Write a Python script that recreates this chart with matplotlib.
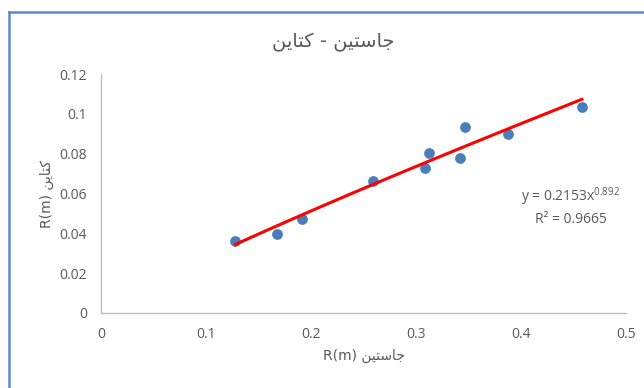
import numpy as np
import matplotlib
matplotlib.use('Agg')
import matplotlib.pyplot as plt
from matplotlib.lines import Line2D

# Datos medidos (R en metros)
x_jastin = [0.128, 0.168, 0.191, 0.259, 0.309, 0.312, 0.342, 0.347, 0.388, 0.458]
y_ketain = [0.0361, 0.0397, 0.0472, 0.0663, 0.0727, 0.0803, 0.0778, 0.0934, 0.0899, 0.1034]

# Coeficientes de la línea de tendencia potencial
coef_a = 0.2153
coef_b = 0.892
r2 = 0.9665

x_ticks = [0, 0.1, 0.2, 0.3, 0.4, 0.5]
y_ticks = [0, 0.02, 0.04, 0.06, 0.08, 0.1, 0.12]
x_tick_labels = ['0', '0.1', '0.2', '0.3', '0.4', '0.5']
y_tick_labels = ['0', '0.02', '0.04', '0.06', '0.08', '0.1', '0.12']

# Texto árabe ya en formas de presentación y en orden visual (matplotlib no hace shaping)
jastin = '\uFEE6\uFBFF\uFE98\uFEB3\uFE8E\uFE9F'   # جاستین
ketain = '\uFEE6\uFBFE\uFE8E\uFE98\uFB90'         # کتاین
titulo = ketain + ' - ' + jastin
etiqueta_x = 'R(m) ' + jastin
etiqueta_y = 'R(m) ' + ketain

fuentes = ['DejaVu Sans']
gris = '#595959'

fig = plt.figure(figsize=(6.44, 3.88), dpi=100)
ax = fig.add_axes([101 / 644, 1 - 313 / 388, 525 / 644, 239 / 388])

# Puntos
ax.scatter(x_jastin, y_ketain, s=60, color='#4A7EBB', zorder=3, linewidths=0)

# Línea de tendencia y = a x^b
xs = np.linspace(min(x_jastin), max(x_jastin), 100)
ax.plot(xs, coef_a * xs ** coef_b, color='#FF0000', linewidth=2.2, zorder=4)

ax.set_xlim(0, 0.5)
ax.set_ylim(0, 0.12)
ax.set_xticks(x_ticks)
ax.set_xticklabels(x_tick_labels)
ax.set_yticks(y_ticks)
ax.set_yticklabels(y_tick_labels)
ax.tick_params(length=0, colors=gris, labelsize=10, pad=10)
for lbl in ax.get_xticklabels() + ax.get_yticklabels():
    lbl.set_family(['Open Sans', 'DejaVu Sans'])

for lado in ['top', 'right']:
    ax.spines[lado].set_visible(False)
for lado in ['left', 'bottom']:
    ax.spines[lado].set_color('#BFBFBF')
    ax.spines[lado].set_linewidth(1.0)

ax.set_xlabel(etiqueta_x, fontsize=10, color=gris, family=fuentes, labelpad=5)
ax.set_ylabel(etiqueta_y, fontsize=10, color=gris, family=fuentes, labelpad=4)
fig.text(0.517, 1 - 42 / 388, titulo, fontsize=14, color=gris, family=fuentes,
         ha='center', va='center')

# Ecuación y R²
ax.text(0.4475, 0.0535, 'y = %.4fx$^{\\mathregular{%.3f}}$\nR² = %.4f' % (coef_a, coef_b, r2),
        fontsize=10, color=gris, ha='center', va='center', linespacing=1.4,
        family=['Open Sans', 'DejaVu Sans'])

# Marco azul del gráfico
fig.add_artist(Line2D([9 / 644, 9 / 644], [0, 1 - 11.5 / 388], color='#5B8BD0',
                      linewidth=1.8, transform=fig.transFigure))
fig.add_artist(Line2D([9 / 644, 1], [1 - 11.5 / 388, 1 - 11.5 / 388], color='#5B8BD0',
                      linewidth=1.8, transform=fig.transFigure))

fig.savefig('out.png', dpi=100)
